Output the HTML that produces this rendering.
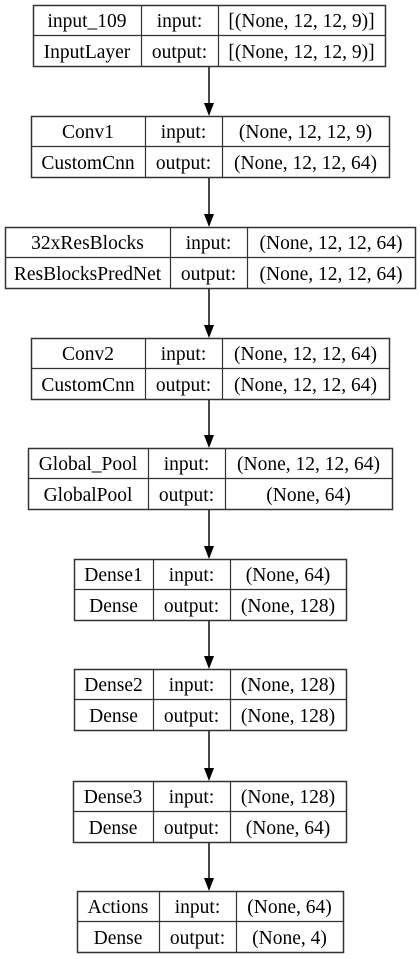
<!DOCTYPE html>
<html><head><meta charset="utf-8"><style>
html,body{margin:0;padding:0;background:#fff;}
svg{display:block;}
text{font-family:"Liberation Serif",serif;font-size:19.5px;fill:#000;}
</style></head><body>
<svg id="g" width="420" height="959" viewBox="0 0 420 959"></svg>
<script>
const names=["input_109","Conv1","32xResBlocks","Conv2","Global_Pool","Dense1","Dense2","Dense3","Actions"];
const types=["InputLayer","CustomCnn","ResBlocksPredNet","CustomCnn","GlobalPool","Dense","Dense","Dense","Dense"];
const inputs=["[(None, 12, 12, 9)]","(None, 12, 12, 9)","(None, 12, 12, 64)","(None, 12, 12, 64)","(None, 12, 12, 64)","(None, 64)","(None, 128)","(None, 128)","(None, 64)"];
const outputs=["[(None, 12, 12, 9)]","(None, 12, 12, 64)","(None, 12, 12, 64)","(None, 12, 12, 64)","(None, 64)","(None, 128)","(None, 128)","(None, 64)","(None, 4)"];
// layout geometry (not data)
const geo=[[33,385,5,141,218],[31,389,116,145,222],[5,415,227,170,247],[31,389,338,145,222],[28,392,448,148,225],[74,346,559,153,230],[74,346,669,153,230],[73,346,781,153,230],[77,343,891,159,236]];
const svg=document.getElementById('g');const NS='http://www.w3.org/2000/svg';
function mk(t,a,p){const e=document.createElementNS(NS,t);for(const k in a)e.setAttribute(k,a[k]);(p||svg).appendChild(e);return e;}
const H=61,cx=209;
names.forEach((n,i)=>{
 const [x0,x1,y,d1,d2]=geo[i];
 const grp=mk('g',{});
 
 
 mk('rect',{x:x0+0.5,y:y+0.5,width:x1-x0,height:H,fill:'none',stroke:'#333','stroke-width':1.5},grp);
 mk('line',{x1:x0,x2:x1,y1:y+30.5,y2:y+30.5,stroke:'#333','stroke-width':1.2},grp);
 mk('line',{x1:d1+.5,x2:d1+.5,y1:y,y2:y+H,stroke:'#333','stroke-width':1.2},grp);
 mk('line',{x1:d2+.5,x2:d2+.5,y1:y,y2:y+H,stroke:'#333','stroke-width':1.2},grp);
 const cells=[[ (x0+d1)/2,y+22,n],[(d1+d2)/2,y+22,'input:'],[(d2+x1)/2,y+22,inputs[i]],
              [(x0+d1)/2,y+53,types[i]],[(d1+d2)/2,y+53,'output:'],[(d2+x1)/2,y+53,outputs[i]]];
 cells.forEach(c=>{const t=mk('text',{x:c[0],y:c[1],'text-anchor':'middle'},grp);t.textContent=c[2];});
 if(i>0){const top=geo[i-1][2]+H+1;
  const a=mk('g',{});
  
  
  mk('line',{x1:cx,x2:cx,y1:top,y2:y-12,stroke:'#333','stroke-width':1.8},a);
  mk('polygon',{points:`${cx-5},${y-13} ${cx+5},${y-13} ${cx},${y}`,fill:'#000'},a);}
});
</script>
</body></html>
